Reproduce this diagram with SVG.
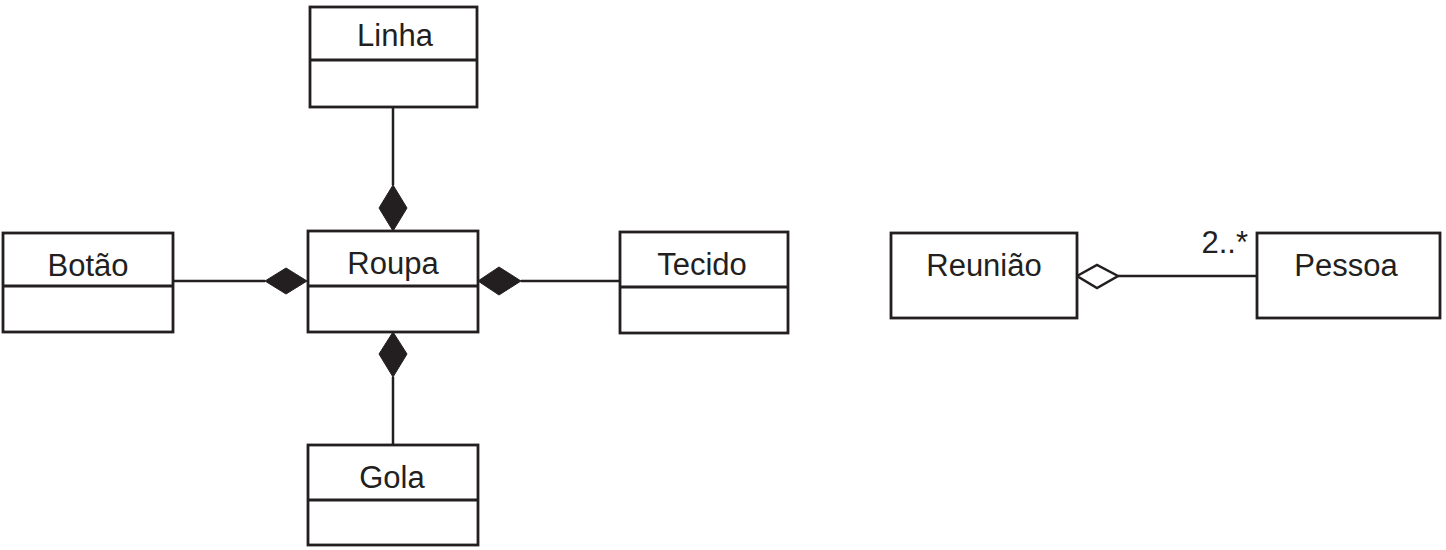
<svg xmlns="http://www.w3.org/2000/svg" width="1446" height="550" viewBox="0 0 1446 550">
<style>
.box{fill:#fff;stroke:#231f20;stroke-width:2.8}
.div{stroke:#231f20;stroke-width:2.8}
.lbl{font-family:"Liberation Sans",Arial,sans-serif;font-size:31px;fill:#231f20;text-anchor:middle}
.con{stroke:#231f20;stroke-width:2.5;fill:none}
.fd{fill:#231f20;stroke:#231f20;stroke-width:1}
.hd{fill:#fff;stroke:#231f20;stroke-width:2.5}
</style>
<rect width="1446" height="550" fill="#fff"/>
<g id="connectors">
<line class="con" x1="393" y1="107" x2="393" y2="185"/>
<polygon class="fd" points="393,185 407,208 393,231 379,208"/>
<line class="con" x1="173" y1="281" x2="265" y2="281"/>
<polygon class="fd" points="265,281 286,268 307,281 286,294"/>
<line class="con" x1="521" y1="281" x2="620" y2="281"/>
<polygon class="fd" points="478,281 499,267 521,281 499,295"/>
<line class="con" x1="393" y1="377" x2="393" y2="445"/>
<polygon class="fd" points="393,332 407,354 393,377 379,354"/>
<line class="con" x1="1118" y1="276" x2="1257" y2="276"/>
<polygon class="hd" points="1077,276 1097,265 1118,276 1097,288"/>
<text class="lbl" x="1248" y="253" style="text-anchor:end">2..*</text>
</g>
<g id="linha">
<rect class="box" x="310" y="7" width="167" height="100"/>
<line class="div" x1="310" y1="60" x2="477" y2="60"/>
<text class="lbl" x="395" y="46">Linha</text>
</g>
<g id="botao">
<rect class="box" x="3" y="233" width="170" height="99"/>
<line class="div" x1="3" y1="286" x2="173" y2="286"/>
<text class="lbl" x="88" y="276">Botão</text>
</g>
<g id="roupa">
<rect class="box" x="308" y="231" width="170" height="101"/>
<line class="div" x1="308" y1="286" x2="478" y2="286"/>
<text class="lbl" x="393" y="274">Roupa</text>
</g>
<g id="tecido">
<rect class="box" x="620" y="232" width="168" height="101"/>
<line class="div" x1="620" y1="287" x2="788" y2="287"/>
<text class="lbl" x="702" y="275">Tecido</text>
</g>
<g id="gola">
<rect class="box" x="308" y="445" width="170" height="100"/>
<line class="div" x1="308" y1="500" x2="478" y2="500"/>
<text class="lbl" x="392" y="488">Gola</text>
</g>
<g id="reuniao">
<rect class="box" x="891" y="233" width="186" height="85"/>
<text class="lbl" x="984" y="276">Reunião</text>
</g>
<g id="pessoa">
<rect class="box" x="1257" y="233" width="183" height="85"/>
<text class="lbl" x="1346" y="276">Pessoa</text>
</g>
</svg>
